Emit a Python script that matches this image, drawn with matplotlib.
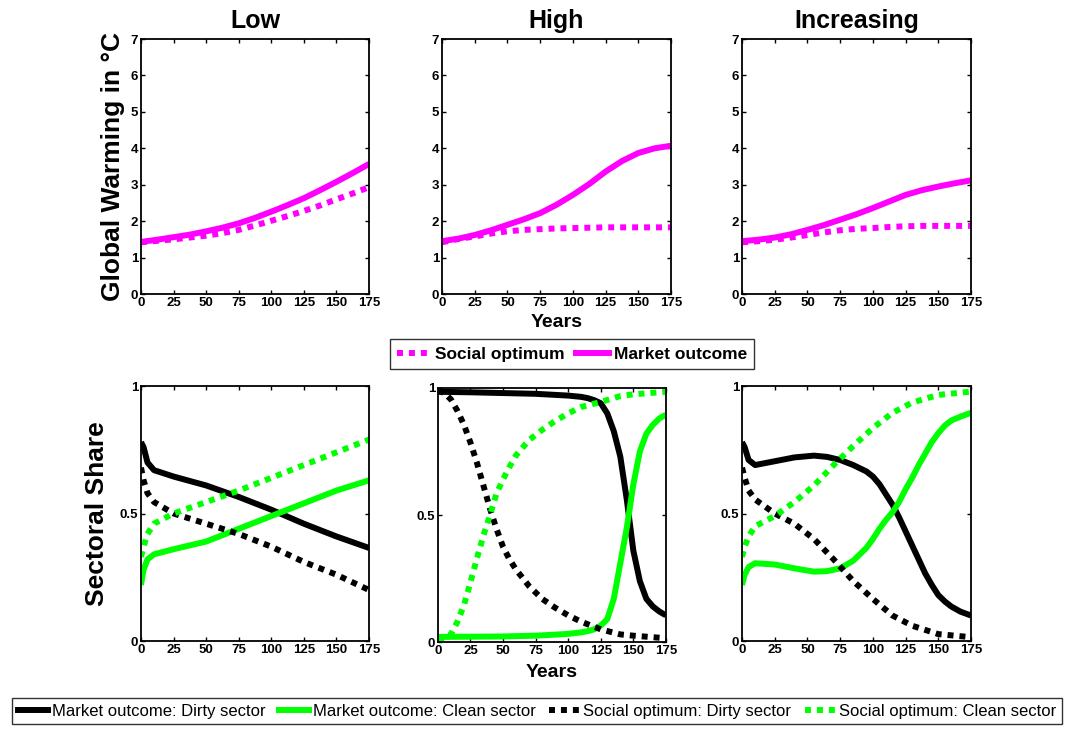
import matplotlib
matplotlib.use("Agg")
import matplotlib.pyplot as plt
from matplotlib.lines import Line2D

plt.rcParams["font.family"] = ["Liberation Sans", "DejaVu Sans"]

MAGENTA = "#ff00ff"
GREEN = "#00ff00"
BLACK = "#000000"

scenarios = ["Low", "High", "Increasing"]

# --- global warming (top row) ---
years_top = [0, 12.5, 25, 37.5, 50, 62.5, 75, 87.5, 100, 112.5, 125, 137.5, 150, 162.5, 175]
low_market = [1.43, 1.49, 1.56, 1.63, 1.72, 1.82, 1.94, 2.09, 2.26, 2.44, 2.63, 2.85, 3.08, 3.32, 3.57]
low_social = [1.42, 1.46, 1.50, 1.55, 1.60, 1.67, 1.76, 1.88, 2.01, 2.14, 2.28, 2.43, 2.60, 2.76, 2.93]
high_market = [1.45, 1.52, 1.62, 1.75, 1.90, 2.05, 2.22, 2.45, 2.72, 3.02, 3.36, 3.65, 3.87, 4.00, 4.07]
high_social = [1.42, 1.51, 1.58, 1.66, 1.72, 1.76, 1.78, 1.80, 1.81, 1.82, 1.83, 1.83, 1.83, 1.83, 1.83]
incr_market = [1.45, 1.49, 1.55, 1.64, 1.76, 1.89, 2.04, 2.19, 2.36, 2.54, 2.72, 2.85, 2.95, 3.04, 3.12]
incr_social = [1.42, 1.45, 1.49, 1.55, 1.62, 1.69, 1.75, 1.79, 1.81, 1.84, 1.86, 1.87, 1.87, 1.87, 1.87]

# --- sectoral shares (bottom row) ---
low_yrs = [0, 2, 5, 10, 25, 50, 75, 100, 125, 150, 175]
low_dirty_m = [0.78, 0.76, 0.70, 0.67, 0.645, 0.61, 0.565, 0.515, 0.46, 0.41, 0.365]
low_clean_m = [0.22, 0.28, 0.32, 0.34, 0.36, 0.39, 0.44, 0.49, 0.54, 0.59, 0.63]
low_dirty_s = [0.68, 0.63, 0.58, 0.545, 0.50, 0.46, 0.42, 0.37, 0.31, 0.26, 0.20]
low_clean_s = [0.33, 0.37, 0.42, 0.46, 0.50, 0.545, 0.59, 0.64, 0.69, 0.74, 0.79]

high_yrs_m = [0, 25, 50, 75, 100, 110, 115, 120, 125, 130, 135, 140, 145, 150, 155, 160, 165, 170, 175]
high_dirty_m = [0.985, 0.983, 0.98, 0.977, 0.97, 0.965, 0.96, 0.952, 0.94, 0.90, 0.83, 0.73, 0.56,
                0.36, 0.24, 0.17, 0.14, 0.12, 0.105]
high_clean_m = [0.02, 0.021, 0.022, 0.025, 0.032, 0.038, 0.043, 0.05, 0.065, 0.09, 0.17, 0.31, 0.45,
                0.62, 0.75, 0.82, 0.855, 0.88, 0.895]
high_yrs_s = [0, 5, 10, 15, 20, 25, 30, 35, 40, 45, 50, 55, 60, 70, 80, 90, 100, 110, 125, 140, 150, 175]
high_dirty_s = [0.99, 0.98, 0.955, 0.91, 0.855, 0.785, 0.705, 0.615, 0.525, 0.445, 0.375, 0.325,
                0.285, 0.22, 0.17, 0.135, 0.105, 0.08, 0.05, 0.03, 0.025, 0.015]
high_clean_s = [0.01, 0.015, 0.03, 0.08, 0.145, 0.235, 0.33, 0.42, 0.50, 0.585, 0.64, 0.69, 0.735,
                0.795, 0.835, 0.87, 0.90, 0.925, 0.945, 0.968, 0.975, 0.985]

incr_yrs_m = [0, 2, 5, 10, 25, 40, 55, 65, 75, 85, 95, 100, 105, 110, 115, 120, 125, 130, 135,
              140, 145, 150, 155, 160, 167, 175]
incr_dirty_m = [0.78, 0.76, 0.71, 0.69, 0.705, 0.72, 0.727, 0.722, 0.71, 0.69, 0.665, 0.645,
                0.615, 0.575, 0.535, 0.485, 0.43, 0.375, 0.32, 0.265, 0.22, 0.18, 0.155, 0.135,
                0.115, 0.10]
incr_clean_m = [0.22, 0.26, 0.29, 0.305, 0.30, 0.285, 0.272, 0.274, 0.285, 0.315, 0.365, 0.40,
                0.44, 0.475, 0.505, 0.545, 0.595, 0.64, 0.69, 0.735, 0.78, 0.815, 0.845, 0.865,
                0.88, 0.895]
incr_yrs_s = [0, 2, 5, 10, 25, 40, 55, 70, 85, 100, 115, 130, 150, 175]
incr_dirty_s = [0.68, 0.64, 0.59, 0.555, 0.50, 0.46, 0.40, 0.32, 0.235, 0.165, 0.10, 0.06, 0.027, 0.015]
incr_clean_s = [0.33, 0.37, 0.41, 0.45, 0.49, 0.545, 0.61, 0.69, 0.765, 0.835, 0.895, 0.935, 0.965, 0.978]

top_data = [(low_social, low_market), (high_social, high_market), (incr_social, incr_market)]
bottom_data = [
    (low_yrs, low_dirty_m, low_clean_m, low_yrs, low_dirty_s, low_clean_s),
    (high_yrs_m, high_dirty_m, high_clean_m, high_yrs_s, high_dirty_s, high_clean_s),
    (incr_yrs_m, incr_dirty_m, incr_clean_m, incr_yrs_s, incr_dirty_s, incr_clean_s),
]

x_ticks = [0, 25, 50, 75, 100, 125, 150, 175]
LW = 4.3
DOT = (0, (1, 1))

fig = plt.figure(figsize=(10.68, 7.29), dpi=100)

top_pos = [[0.132, 0.5967, 0.2135, 0.3498],
           [0.4139, 0.5967, 0.2144, 0.3498],
           [0.6948, 0.5967, 0.2144, 0.3498]]
bot_pos = [[0.132, 0.1207, 0.2135, 0.3498],
           [0.410, 0.1193, 0.2135, 0.3485],
           [0.6948, 0.1207, 0.2144, 0.3498]]


def style_axes(ax):
    ax.set_xlim(0, 175)
    ax.set_xticks(x_ticks)
    ax.tick_params(direction="in", top=True, right=True, length=3, width=1, pad=2,
                   labelsize=9.5)
    for lab in ax.get_xticklabels() + ax.get_yticklabels():
        lab.set_fontweight("bold")
    for sp in ax.spines.values():
        sp.set_linewidth(1.3)


for i, name in enumerate(scenarios):
    ax = fig.add_axes(top_pos[i])
    social, market = top_data[i]
    ax.plot(years_top, social, color=MAGENTA, lw=LW, linestyle=DOT, dash_capstyle="butt")
    ax.plot(years_top, market, color=MAGENTA, lw=LW, solid_capstyle="butt")
    ax.set_ylim(0, 7)
    ax.set_yticks(range(8))
    style_axes(ax)
    ax.set_title(name, fontsize=18, fontweight="bold", pad=8)
    if i == 0:
        ax.set_ylabel("Global Warming in °C", fontsize=19, fontweight="bold", labelpad=4)
    if i == 1:
        ax.set_xlabel("Years", fontsize=14, fontweight="bold", labelpad=4)

    axb = fig.add_axes(bot_pos[i])
    ym, dm, cm, ys, ds, cs = bottom_data[i]
    axb.plot(ym, dm, color=BLACK, lw=LW, solid_capstyle="butt")
    axb.plot(ym, cm, color=GREEN, lw=LW, solid_capstyle="butt")
    axb.plot(ys, ds, color=BLACK, lw=LW, linestyle=DOT, dash_capstyle="butt")
    axb.plot(ys, cs, color=GREEN, lw=LW, linestyle=DOT, dash_capstyle="butt")
    axb.set_ylim(0, 1)
    axb.set_yticks([0, 0.5, 1])
    axb.set_yticklabels(["0", "0.5", "1"])
    style_axes(axb)
    if i == 0:
        axb.set_ylabel("Sectoral Share", fontsize=19, fontweight="bold", labelpad=8)
    if i == 1:
        axb.set_xlabel("Years", fontsize=14, fontweight="bold", labelpad=5)

top_handles = [
    Line2D([], [], color=MAGENTA, lw=LW, linestyle=DOT, dash_capstyle="butt"),
    Line2D([], [], color=MAGENTA, lw=LW),
]
leg1 = fig.legend(top_handles, ["Social optimum", "Market outcome"],
                  loc="center", bbox_to_anchor=(0.5356, 0.5144), ncol=2,
                  prop={"weight": "bold", "size": 12.5}, frameon=True, fancybox=False,
                  edgecolor="black", handlelength=1.9, handletextpad=0.3,
                  columnspacing=0.65, borderpad=0.4, borderaxespad=0)
leg1.get_frame().set_linewidth(1.0)

bottom_handles = [
    Line2D([], [], color=BLACK, lw=LW),
    Line2D([], [], color=GREEN, lw=LW),
    Line2D([], [], color=BLACK, lw=LW, linestyle=DOT, dash_capstyle="butt"),
    Line2D([], [], color=GREEN, lw=LW, linestyle=DOT, dash_capstyle="butt"),
]
bottom_labels = ["Market outcome: Dirty sector", "Market outcome: Clean sector",
                 "Social optimum: Dirty sector", "Social optimum: Clean sector"]
leg2 = fig.legend(bottom_handles, bottom_labels, loc="center",
                  bbox_to_anchor=(0.5028, 0.0245), ncol=4, prop={"size": 12},
                  frameon=True, fancybox=False, edgecolor="black", handlelength=1.8,
                  handletextpad=0.25, columnspacing=0.8, borderpad=0.35, borderaxespad=0)
leg2.get_frame().set_linewidth(1.0)

fig.savefig("out.png", dpi=100)
